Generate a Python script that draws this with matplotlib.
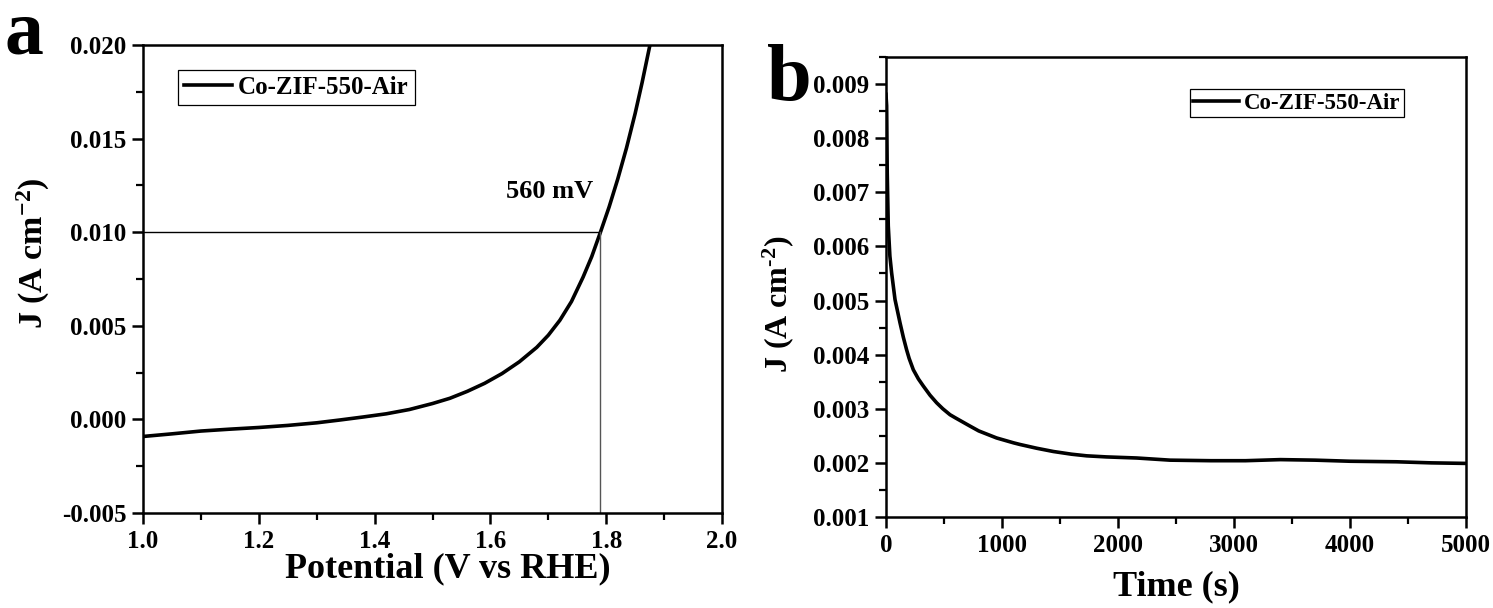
import matplotlib
matplotlib.use("Agg")
import matplotlib.pyplot as plt
from matplotlib.ticker import MultipleLocator, FormatStrFormatter

plt.rcParams['font.family'] = ['Liberation Serif', 'DejaVu Serif']
plt.rcParams['font.weight'] = 'bold'
plt.rcParams['axes.labelweight'] = 'bold'
plt.rcParams['mathtext.fontset'] = 'custom'
plt.rcParams['mathtext.rm'] = 'Liberation Serif:bold'
plt.rcParams['mathtext.bf'] = 'Liberation Serif:bold'
plt.rcParams['mathtext.default'] = 'bf'
plt.rcParams['axes.unicode_minus'] = False

# LSV curve (potential vs RHE, current density)
potential = [1.00, 1.05, 1.10, 1.15, 1.20, 1.25, 1.30, 1.34, 1.38, 1.42,
             1.46, 1.50, 1.53, 1.56, 1.59, 1.62, 1.65, 1.68, 1.70, 1.72,
             1.74, 1.76, 1.775, 1.79, 1.805, 1.82, 1.835, 1.85, 1.862, 1.8755]
j_lsv = [-0.00091, -0.00077, -0.00062, -0.00052, -0.00043, -0.00032, -0.00018,
         -0.00003, 0.00013, 0.00030, 0.00053, 0.00085, 0.00113, 0.00150, 0.00193,
         0.00245, 0.00308, 0.00385, 0.00450, 0.00530, 0.00630, 0.00760, 0.00870,
         0.01000, 0.01135, 0.01285, 0.01450, 0.01635, 0.01800, 0.02000]
e_10 = 1.79
j_10 = 0.010

# chronoamperometry
time_s = [0, 6, 11, 20, 34, 49, 78, 100, 121, 150, 178, 200, 236, 280, 322,
          380, 437, 490, 552, 600, 724, 800, 954, 1100, 1155, 1300, 1443, 1600,
          1730, 1900, 2161, 2449, 2800, 3100, 3400, 3700, 4000, 4400, 4700, 5000]
j_ca = [0.00881, 0.00860, 0.00736, 0.00638, 0.00582, 0.00551, 0.00502, 0.00480,
        0.00459, 0.00432, 0.00409, 0.00393, 0.00372, 0.00355, 0.00342, 0.00325,
        0.00311, 0.00300, 0.00289, 0.00283, 0.00268, 0.00259, 0.00246, 0.00237,
        0.00234, 0.00227, 0.00221, 0.00216, 0.00213, 0.00211, 0.00209, 0.00205,
        0.00204, 0.00204, 0.00206, 0.00205, 0.00203, 0.00202, 0.00200, 0.00199]

label = 'Co-ZIF-550-Air'

fig = plt.figure(figsize=(14.93, 6.08), dpi=100)
ax1 = fig.add_axes([0.0958, 0.1562, 0.3878, 0.7697])
ax2 = fig.add_axes([0.5934, 0.1497, 0.3885, 0.7566])

for ax in (ax1, ax2):
    for s in ax.spines.values():
        s.set_linewidth(1.8)
    ax.tick_params(which='major', direction='out', length=8, width=1.8,
                   labelsize=18, pad=4, top=False, right=False)
    ax.tick_params(which='minor', direction='out', length=5, width=1.6,
                   top=False, right=False)

# panel a
ax1.plot(potential, j_lsv, color='black', lw=2.6, label=label)
ax1.plot([1.0, e_10], [j_10, j_10], color='black', lw=1.0)
ax1.plot([e_10, e_10], [-0.005, j_10], color='#555555', lw=1.0)
ax1.text(1.777, 0.0122, '560 mV', fontsize=19, ha='right', va='center')
ax1.set_xlim(1.0, 2.0)
ax1.set_ylim(-0.005, 0.020)
ax1.xaxis.set_major_locator(MultipleLocator(0.2))
ax1.xaxis.set_minor_locator(MultipleLocator(0.1))
ax1.yaxis.set_major_locator(MultipleLocator(0.005))
ax1.yaxis.set_minor_locator(MultipleLocator(0.0025))
ax1.xaxis.set_major_formatter(FormatStrFormatter('%.1f'))
ax1.yaxis.set_major_formatter(FormatStrFormatter('%.3f'))
ax1.set_xlabel('Potential (V vs RHE)', fontsize=26)
ax1.xaxis.set_label_coords(0.527, -0.083)
ax1.set_ylabel('J (A cm$^{-2}$)', fontsize=24.5)
ax1.yaxis.set_label_coords(-0.158, 0.556)
leg1 = ax1.legend(loc='upper left', bbox_to_anchor=(0.06, 0.947), borderaxespad=0,
                  fontsize=18, fancybox=False, edgecolor='black', framealpha=1,
                  handlelength=1.9, handletextpad=0.25, borderpad=0.25)
leg1.get_frame().set_linewidth(0.9)
fig.text(0.003, 0.9112, 'a', fontsize=56, fontweight='bold', ha='left', va='baseline')

# panel b
ax2.plot(time_s, j_ca, color='black', lw=2.6, label=label)
ax2.set_xlim(0, 5000)
ax2.set_ylim(0.001, 0.0095)
ax2.xaxis.set_major_locator(MultipleLocator(1000))
ax2.xaxis.set_minor_locator(MultipleLocator(500))
ax2.yaxis.set_major_locator(MultipleLocator(0.001))
ax2.yaxis.set_minor_locator(MultipleLocator(0.0005))
ax2.yaxis.set_major_formatter(FormatStrFormatter('%.3f'))
ax2.set_xlabel('Time (s)', fontsize=26, labelpad=10)
ax2.set_ylabel(r'J (A cm$^{\text{-}2}$)', fontsize=23)
ax2.yaxis.set_label_coords(-0.155, 0.463)
leg2 = ax2.legend(loc='upper left', bbox_to_anchor=(0.524, 0.930), borderaxespad=0,
                  fontsize=16.5, fancybox=False, edgecolor='black', framealpha=1,
                  handlelength=2.0, handletextpad=0.2, borderpad=0.15)
leg2.get_frame().set_linewidth(0.9)
fig.text(0.514, 0.835, 'b', fontsize=58, fontweight='bold', ha='left', va='baseline')

fig.savefig('out.png', dpi=100)
